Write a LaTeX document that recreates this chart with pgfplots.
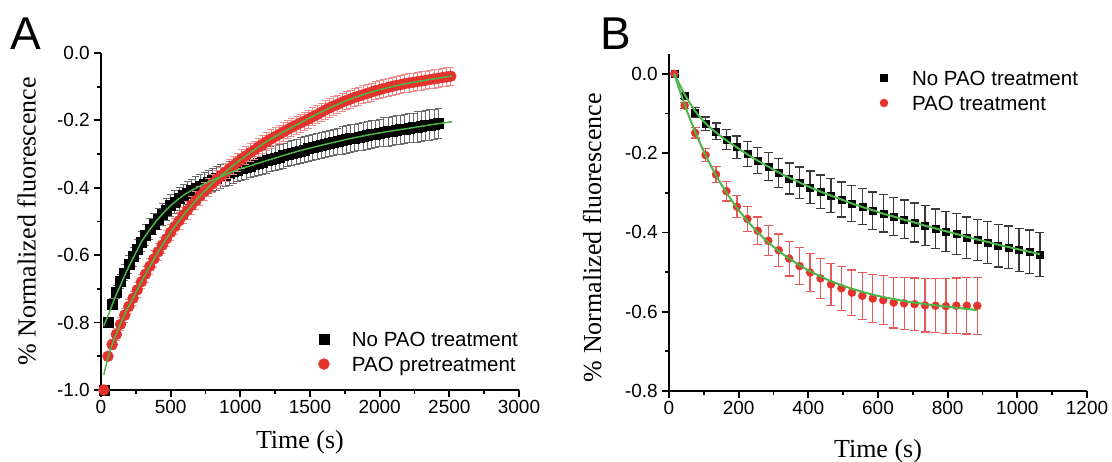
\documentclass[border=0pt]{standalone}
\usepackage{fontspec}
\setmainfont{Liberation Serif}
\newfontfamily\sansf{Liberation Sans}
\usepackage{pgfplots}
\usepackage{pgfplotstable}
\pgfplotsset{compat=1.18}

\definecolor{redc}{HTML}{E4322D}
\definecolor{pinkerr}{HTML}{F08C8C}
\definecolor{rederr}{HTML}{E65A5A}
\definecolor{grayerr}{HTML}{6A6A6A}
\definecolor{darkerr}{HTML}{3A3A3A}
\definecolor{fitgreen}{HTML}{4CB648}

% panel A, no PAO: time, value, error
\pgfplotstableread{
t v e
20 -1.000 0.000
50 -0.800 0.012
80 -0.745 0.016
110 -0.710 0.019
140 -0.678 0.022
170 -0.652 0.024
200 -0.628 0.026
230 -0.604 0.028
260 -0.581 0.029
290 -0.560 0.030
320 -0.541 0.031
350 -0.523 0.031
380 -0.507 0.032
410 -0.492 0.032
440 -0.478 0.033
470 -0.465 0.033
500 -0.453 0.033
530 -0.442 0.034
560 -0.432 0.034
590 -0.423 0.034
620 -0.415 0.034
650 -0.408 0.034
680 -0.401 0.034
710 -0.395 0.034
740 -0.389 0.034
770 -0.383 0.034
800 -0.377 0.034
830 -0.372 0.035
860 -0.367 0.035
890 -0.362 0.035
920 -0.357 0.035
950 -0.352 0.035
980 -0.347 0.035
1010 -0.343 0.035
1040 -0.339 0.035
1070 -0.335 0.035
1100 -0.331 0.035
1130 -0.327 0.037
1160 -0.323 0.037
1190 -0.319 0.037
1220 -0.315 0.037
1250 -0.311 0.037
1280 -0.308 0.037
1310 -0.304 0.037
1340 -0.300 0.037
1370 -0.297 0.037
1400 -0.293 0.037
1430 -0.290 0.039
1460 -0.287 0.039
1490 -0.283 0.039
1520 -0.280 0.039
1550 -0.277 0.039
1580 -0.274 0.039
1610 -0.271 0.039
1640 -0.268 0.039
1670 -0.265 0.039
1700 -0.262 0.039
1730 -0.260 0.041
1760 -0.257 0.041
1790 -0.254 0.041
1820 -0.252 0.041
1850 -0.249 0.041
1880 -0.247 0.041
1910 -0.244 0.041
1940 -0.242 0.041
1970 -0.240 0.041
2000 -0.237 0.041
2030 -0.235 0.043
2060 -0.233 0.043
2090 -0.231 0.043
2120 -0.229 0.043
2150 -0.227 0.043
2180 -0.225 0.043
2210 -0.223 0.043
2240 -0.221 0.043
2270 -0.219 0.045
2300 -0.217 0.045
2330 -0.215 0.045
2360 -0.213 0.045
2390 -0.211 0.045
2420 -0.209 0.045
}\blackA

% panel A, PAO pretreatment
\pgfplotstableread{
t v e
20 -1.000 0.000
50 -0.900 0.012
80 -0.865 0.015
110 -0.835 0.017
140 -0.805 0.019
170 -0.778 0.021
200 -0.752 0.021
230 -0.728 0.021
260 -0.703 0.021
290 -0.679 0.021
320 -0.656 0.024
350 -0.633 0.024
380 -0.611 0.024
410 -0.590 0.024
440 -0.570 0.024
470 -0.551 0.024
500 -0.532 0.024
530 -0.515 0.024
560 -0.498 0.024
590 -0.482 0.024
620 -0.467 0.027
650 -0.452 0.027
680 -0.438 0.027
710 -0.424 0.027
740 -0.411 0.027
770 -0.399 0.027
800 -0.387 0.027
830 -0.376 0.027
860 -0.365 0.027
890 -0.354 0.027
920 -0.344 0.027
950 -0.334 0.027
980 -0.324 0.027
1010 -0.314 0.027
1040 -0.305 0.027
1070 -0.296 0.027
1100 -0.288 0.027
1130 -0.279 0.027
1160 -0.271 0.027
1190 -0.263 0.027
1220 -0.255 0.027
1250 -0.248 0.027
1280 -0.241 0.027
1310 -0.234 0.027
1340 -0.227 0.027
1370 -0.220 0.027
1400 -0.214 0.027
1430 -0.208 0.027
1460 -0.202 0.027
1490 -0.196 0.027
1520 -0.189 0.027
1550 -0.183 0.027
1580 -0.176 0.027
1610 -0.169 0.027
1640 -0.163 0.027
1670 -0.157 0.027
1700 -0.152 0.027
1730 -0.146 0.027
1760 -0.141 0.027
1790 -0.137 0.027
1820 -0.132 0.027
1850 -0.128 0.027
1880 -0.124 0.027
1910 -0.120 0.027
1940 -0.116 0.027
1970 -0.112 0.027
2000 -0.109 0.027
2030 -0.105 0.027
2060 -0.102 0.027
2090 -0.099 0.027
2120 -0.096 0.027
2150 -0.094 0.027
2180 -0.091 0.027
2210 -0.089 0.027
2240 -0.087 0.027
2270 -0.085 0.027
2300 -0.083 0.027
2330 -0.081 0.027
2360 -0.079 0.027
2390 -0.077 0.027
2420 -0.075 0.027
2450 -0.073 0.027
2480 -0.071 0.027
2510 -0.069 0.027
}\redA

% panel B, no PAO
\pgfplotstableread{
t v e
15 0.000 0.000
45 -0.055 0.008
75 -0.097 0.012
105 -0.126 0.017
135 -0.145 0.021
165 -0.166 0.025
195 -0.185 0.028
225 -0.202 0.031
255 -0.219 0.033
285 -0.234 0.035
315 -0.250 0.037
345 -0.264 0.039
375 -0.275 0.040
405 -0.286 0.041
435 -0.297 0.042
465 -0.307 0.043
495 -0.317 0.044
525 -0.327 0.045
555 -0.335 0.046
585 -0.345 0.047
615 -0.352 0.047
645 -0.360 0.048
675 -0.367 0.049
705 -0.375 0.049
735 -0.383 0.050
765 -0.391 0.050
795 -0.398 0.051
825 -0.404 0.051
855 -0.413 0.052
885 -0.419 0.052
915 -0.426 0.053
945 -0.434 0.053
975 -0.438 0.054
1005 -0.444 0.054
1035 -0.449 0.055
1065 -0.456 0.056
}\blackB

% panel B, PAO treatment
\pgfplotstableread{
t v e
15 0.000 0.000
45 -0.080 0.008
75 -0.149 0.013
105 -0.205 0.017
135 -0.254 0.021
165 -0.296 0.025
195 -0.335 0.028
225 -0.366 0.032
255 -0.396 0.035
285 -0.421 0.038
315 -0.445 0.041
345 -0.466 0.044
375 -0.485 0.046
405 -0.501 0.048
435 -0.516 0.051
465 -0.531 0.053
495 -0.541 0.055
525 -0.552 0.057
555 -0.560 0.059
585 -0.567 0.061
615 -0.571 0.062
645 -0.577 0.064
675 -0.579 0.065
705 -0.581 0.066
735 -0.584 0.067
765 -0.585 0.068
795 -0.586 0.069
825 -0.585 0.070
855 -0.585 0.071
885 -0.585 0.072
}\redB

\pgfplotsset{
  panel/.style={
    scale only axis, width=418pt, height=337pt, anchor=south west,
    axis lines*=left, axis line style={line width=2.2pt},
    tick align=outside, major tick length=7pt, minor tick length=4pt,
    tick style={line width=1.8pt, black},
    minor tick num=1,
    tick label style={font=\sansf\fontsize{19}{19}\selectfont},
    yticklabel style={inner xsep=4pt},
    label style={font=\fontsize{26}{26}\selectfont},
    xlabel={Time (s)}, ylabel={\% Normalized fluorescence},
    clip=false, clip marker paths=true,
    legend cell align=left,
    legend image code/.code={\path[draw=none, fill=none] (-6pt,-6pt) rectangle (28pt,6pt); \draw[##1] plot coordinates {(0pt,0pt)};},
    legend style={draw=none, fill=none, inner sep=0pt, outer sep=0pt, row sep=10.3pt,
      font=\sansf\fontsize{20.5}{20.5}\selectfont,
      nodes={inner sep=0pt, text height=14.7pt, text depth=0pt}},
  }
}

\begin{document}
\begin{tikzpicture}
\useasboundingbox (0,0) rectangle (1112pt,461pt);

\begin{axis}[panel, at={(101pt,71pt)},
  xmin=0, xmax=3000, ymin=-1, ymax=0,
  xtick={0,500,1000,1500,2000,2500,3000},
  xticklabels={0,500,1000,1500,2000,2500,3000},
  ytick={-1,-0.8,-0.6,-0.4,-0.2,0},
  yticklabels={-1.0,-0.8,-0.6,-0.4,-0.2,0.0},
  xlabel style={at={(axis description cs:0.476,-0.155)}, anchor=center},
  ylabel style={at={(axis description cs:-0.178,0.5)}, anchor=center},
  legend style={at={(axis description cs:0.519,0.173)}, anchor=north west}]
\addplot[only marks, mark=square*, mark size=5pt, mark options={draw=black, fill=black},
  error bars/y dir=both, error bars/y explicit,
  error bars/error bar style={line width=0.8pt, color=grayerr},
  error bars/error mark options={rotate=90, mark size=3.5pt, line width=0.8pt, color=grayerr}]
  table[x=t, y=v, y error=e] {\blackA};
\addlegendentry{No PAO treatment}
\addplot[only marks, mark=*, mark size=5.5pt, mark options={draw=redc, fill=redc},
  error bars/y dir=both, error bars/y explicit,
  error bars/error bar style={line width=0.8pt, color=pinkerr},
  error bars/error mark options={rotate=90, mark size=3.5pt, line width=0.8pt, color=pinkerr}]
  table[x=t, y=v, y error=e] {\redA};
\addlegendentry{PAO pretreatment}
\addplot[fitgreen, line width=1.5pt, smooth, forget plot] coordinates {
  (20,-0.81) (50,-0.78) (80,-0.748) (110,-0.717) (140,-0.689) (170,-0.660)
  (200,-0.634) (250,-0.593) (300,-0.554) (400,-0.497) (500,-0.453) (600,-0.420)
  (700,-0.397) (800,-0.377) (900,-0.360) (1000,-0.344) (1200,-0.318) (1400,-0.293)
  (1600,-0.272) (1800,-0.253) (2000,-0.237) (2200,-0.224) (2400,-0.211) (2520,-0.204)};
\addplot[fitgreen, line width=1.5pt, smooth, forget plot] coordinates {
  (20,-0.955) (50,-0.905) (80,-0.866) (110,-0.833) (140,-0.803) (170,-0.776)
  (200,-0.751) (250,-0.711) (300,-0.671) (400,-0.597) (500,-0.532) (600,-0.477)
  (700,-0.429) (800,-0.387) (900,-0.351) (1000,-0.317) (1200,-0.260) (1400,-0.214)
  (1600,-0.171) (1800,-0.135) (2000,-0.109) (2200,-0.090) (2400,-0.076) (2520,-0.068)};
\end{axis}

\begin{axis}[panel, at={(669pt,70pt)},
  xmin=0, xmax=1200, ymin=-0.8, ymax=0.05,
  xtick={0,200,400,600,800,1000,1200},
  xticklabels={0,200,400,600,800,1000,1200},
  ytick={-0.8,-0.6,-0.4,-0.2,0},
  yticklabels={-0.8,-0.6,-0.4,-0.2,0.0},
  xlabel style={at={(axis description cs:0.5,-0.178)}, anchor=center},
  ylabel style={at={(axis description cs:-0.184,0.455)}, anchor=center},
  legend style={at={(axis description cs:0.5,0.9506)}, anchor=north west}]
\addplot[only marks, mark=square*, mark size=3.5pt, mark options={draw=black, fill=black},
  error bars/y dir=both, error bars/y explicit,
  error bars/error bar style={line width=1.2pt, color=darkerr},
  error bars/error mark options={rotate=90, mark size=4.5pt, line width=1.2pt, color=darkerr}]
  table[x=t, y=v, y error=e] {\blackB};
\addlegendentry{No PAO treatment}
\addplot[only marks, mark=*, mark size=4pt, mark options={draw=redc, fill=redc},
  error bars/y dir=both, error bars/y explicit,
  error bars/error bar style={line width=1.2pt, color=rederr},
  error bars/error mark options={rotate=90, mark size=4.5pt, line width=1.2pt, color=rederr}]
  table[x=t, y=v, y error=e] {\redB};
\addlegendentry{PAO treatment}
\addplot[fitgreen, line width=2pt, smooth, forget plot] coordinates {
  (15,0) (45,-0.052) (75,-0.094) (105,-0.125) (135,-0.148) (165,-0.168)
  (195,-0.186) (225,-0.203) (255,-0.219) (285,-0.234) (315,-0.249) (345,-0.262)
  (375,-0.274) (405,-0.286) (435,-0.297) (465,-0.307) (495,-0.317) (525,-0.327)
  (555,-0.336) (585,-0.344) (615,-0.353) (645,-0.360) (675,-0.368) (705,-0.375)
  (735,-0.383) (765,-0.390) (795,-0.397) (825,-0.404) (855,-0.411) (885,-0.418)
  (915,-0.424) (945,-0.431) (975,-0.437) (1005,-0.443) (1035,-0.449) (1065,-0.455)};
\addplot[fitgreen, line width=2pt, smooth, forget plot] coordinates {
  (15,0) (45,-0.078) (75,-0.146) (105,-0.205) (135,-0.256) (165,-0.300)
  (195,-0.338) (225,-0.371) (255,-0.400) (285,-0.425) (315,-0.447) (345,-0.466)
  (375,-0.483) (405,-0.498) (435,-0.511) (465,-0.523) (495,-0.533) (525,-0.542)
  (555,-0.550) (585,-0.557) (615,-0.563) (645,-0.568) (675,-0.573) (705,-0.577)
  (735,-0.581) (765,-0.584) (795,-0.587) (825,-0.590) (855,-0.593) (885,-0.596)};
\end{axis}

\node[font=\sansf\fontsize{46}{46}\selectfont, anchor=base west, inner sep=0pt] at (10pt,411pt) {A};
\node[font=\sansf\fontsize{46}{46}\selectfont, anchor=base west, inner sep=0pt] at (600pt,411pt) {B};
\end{tikzpicture}
\end{document}
